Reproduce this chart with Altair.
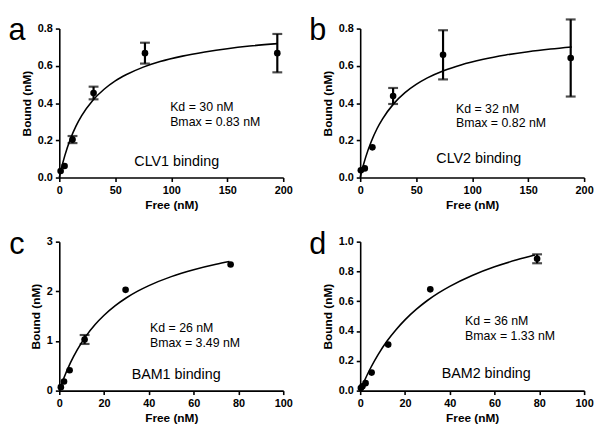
import altair as alt
import pandas as pd

FONT = "Liberation Sans"

# ---- panel a: CLV1 ----
a_x = [1.2, 4.7, 11.8, 30.6, 76.5, 194.7]
a_y = [0.035, 0.062, 0.204, 0.454, 0.668, 0.668]
a_err = [0, 0, 0.019, 0.034, 0.056, 0.103]
a_cx = [0, 2.5, 5, 10, 15, 20, 30, 40, 50, 60, 75, 90, 110, 130, 150, 170, 195]
a_cy = [0, 0.064, 0.119, 0.208, 0.277, 0.332, 0.415, 0.474, 0.519, 0.553, 0.593, 0.623, 0.652, 0.674, 0.692, 0.706, 0.719]

# ---- panel b: CLV2 ----
b_x = [0.6, 4.1, 10.9, 29.4, 74, 188]
b_y = [0.039, 0.049, 0.162, 0.438, 0.659, 0.642]
b_err = [0, 0, 0, 0.043, 0.132, 0.207]
b_cx = [0, 2.5, 5, 10, 15, 20, 30, 40, 50, 60, 75, 90, 110, 130, 150, 170, 189]
b_cy = [0, 0.059, 0.111, 0.195, 0.262, 0.315, 0.397, 0.456, 0.500, 0.535, 0.575, 0.605, 0.635, 0.658, 0.676, 0.690, 0.701]

# ---- panel c: BAM1 ----
c_x = [0.7, 2.1, 4.6, 11.3, 29.6, 76.5]
c_y = [0.07, 0.185, 0.41, 1.03, 2.03, 2.54]
c_err = [0, 0, 0, 0.09, 0, 0]
c_cx = [0, 2, 5, 8, 12, 16, 20, 25, 30, 35, 40, 50, 60, 70, 76]
c_cy = [0, 0.249, 0.563, 0.821, 1.102, 1.330, 1.517, 1.711, 1.870, 2.003, 2.115, 2.296, 2.435, 2.545, 2.600]

# ---- panel d: BAM2 ----
d_x = [0.3, 1, 2.4, 5.1, 12.5, 31.3, 79]
d_y = [0.018, 0.029, 0.05, 0.121, 0.309, 0.68, 0.885]
d_err = [0, 0, 0, 0, 0, 0, 0.03]
d_cx = [0, 2, 5, 8, 12, 16, 20, 25, 30, 35, 40, 50, 60, 70, 78]
d_cy = [0, 0.070, 0.162, 0.242, 0.333, 0.409, 0.475, 0.545, 0.605, 0.656, 0.700, 0.773, 0.831, 0.878, 0.910]

letters = ["a", "b", "c", "d"]
kd_labels = ["Kd = 30 nM", "Kd = 32 nM", "Kd = 26 nM", "Kd = 36 nM"]
bmax_labels = ["Bmax = 0.83 nM", "Bmax = 0.82 nM", "Bmax = 3.49 nM", "Bmax = 1.33 nM"]
bind_labels = ["CLV1 binding", "CLV2 binding", "BAM1 binding", "BAM2 binding"]
x_ticks_ab = [0, 50, 100, 150, 200]
x_ticks_cd = [0, 20, 40, 60, 80, 100]
y_ticks_a = [0.0, 0.2, 0.4, 0.6, 0.8]
y_ticks_c = [0, 1, 2, 3]
y_ticks_d = [0.0, 0.2, 0.4, 0.6, 0.8, 1.0]

W, H = 227, 151


def panel(letter, px, py, perr, cx, cy, xmax, xticks, ymax, yticks, yfmt,
          kd, bmax, bind, kd_pos, bmax_pos, bind_pos, letter_dy):
    xs = alt.Scale(domain=[0, xmax], nice=False, zero=True)
    ys = alt.Scale(domain=[0, ymax], nice=False, zero=True)
    xax = alt.Axis(values=xticks, format="d", title="Free (nM)")
    yax = alt.Axis(values=yticks, format=yfmt, title="Bound (nM)")
    X = lambda f: alt.X(f, type="quantitative", scale=xs, axis=xax)
    Y = lambda f: alt.Y(f, type="quantitative", scale=ys, axis=yax)

    curve = alt.Chart(pd.DataFrame({"x": cx, "y": cy})).mark_line(
        color="black", strokeWidth=1.6, interpolate="monotone"
    ).encode(x=X("x"), y=Y("y"))

    pts = pd.DataFrame({"x": px, "y": py, "e": perr})
    pts["lo"] = pts["y"] - pts["e"]
    pts["hi"] = pts["y"] + pts["e"]
    errs = pts[pts["e"] > 0]
    caps = pd.concat([
        pd.DataFrame({"x": errs["x"], "y": errs["lo"]}),
        pd.DataFrame({"x": errs["x"], "y": errs["hi"]}),
    ])

    rules = alt.Chart(errs).mark_rule(color="black", strokeWidth=2.2).encode(
        x=X("x"), y=Y("lo"), y2="hi"
    )
    capm = alt.Chart(caps).mark_tick(
        color="black", orient="horizontal", size=10, thickness=2.2
    ).encode(x=X("x"), y=Y("y"))
    dots = alt.Chart(pts).mark_point(
        filled=True, color="black", size=45, opacity=1, shape="circle"
    ).encode(x=X("x"), y=Y("y"))

    tdf = pd.DataFrame({
        "x": [kd_pos[0], bmax_pos[0]],
        "y": [kd_pos[1], bmax_pos[1]],
        "t": [kd, bmax],
    })
    txt = alt.Chart(tdf).mark_text(
        align="left", baseline="middle", font=FONT, fontSize=12.5, color="black"
    ).encode(x=X("x"), y=Y("y"), text="t:N")
    bdf = pd.DataFrame({"x": [bind_pos[0]], "y": [bind_pos[1]], "t": [bind]})
    btxt = alt.Chart(bdf).mark_text(
        align="left", baseline="middle", font=FONT, fontSize=14.5, color="black"
    ).encode(x=X("x"), y=Y("y"), text="t:N")

    ldf = pd.DataFrame({"t": [letter]})
    lt = alt.Chart(ldf).mark_text(
        align="center", baseline="alphabetic", font=FONT, fontSize=31, color="black"
    ).encode(x=alt.value(-43), y=alt.value(letter_dy), text="t:N")

    return alt.layer(curve, rules, capm, dots, txt, btxt, lt).properties(width=W, height=H)


pa = panel("a", a_x, a_y, a_err, a_cx, a_cy, 200, x_ticks_ab, 0.8, y_ticks_a, ".1f",
           kd_labels[0], bmax_labels[0], bind_labels[0], (99, 0.38), (99, 0.298), (67, 0.085), 12)
pb = panel("b", b_x, b_y, b_err, b_cx, b_cy, 200, x_ticks_ab, 0.8, y_ticks_a, ".1f",
           kd_labels[1], bmax_labels[1], bind_labels[1], (85.5, 0.37), (85.5, 0.29), (68, 0.10), 12)
pc = panel("c", c_x, c_y, c_err, c_cx, c_cy, 100, x_ticks_cd, 3, y_ticks_c, "d",
           kd_labels[2], bmax_labels[2], bind_labels[2], (40.5, 1.26), (40.5, 0.96), (32.3, 0.31), 12)
pd_ = panel("d", d_x, d_y, d_err, d_cx, d_cy, 100, x_ticks_cd, 1.0, y_ticks_d, ".1f",
            kd_labels[3], bmax_labels[3], bind_labels[3], (46.8, 0.465), (46.8, 0.365), (36.4, 0.109), 12)

chart = alt.concat(pa, pb, pc, pd_, columns=2, spacing={"row": 65, "column": 78}, bounds="flush").properties(
    padding={"left": 0, "top": 5, "right": 0, "bottom": 0}
).configure_view(stroke=None).configure_axis(
    grid=False,
    domainColor="black", domainWidth=1.6,
    tickColor="black", tickWidth=1.6, tickSize=4,
    labelFont=FONT, labelFontSize=11, labelFontWeight="bold", labelColor="black", labelPadding=3,
    titleFont=FONT, titleFontSize=12, titleFontWeight="bold", titleColor="black", titlePadding=4,
    labelOverlap=False, labelBound=False, labelFlush=False,
)

chart.save("out.html", embed_options={"renderer": "svg", "actions": False})
